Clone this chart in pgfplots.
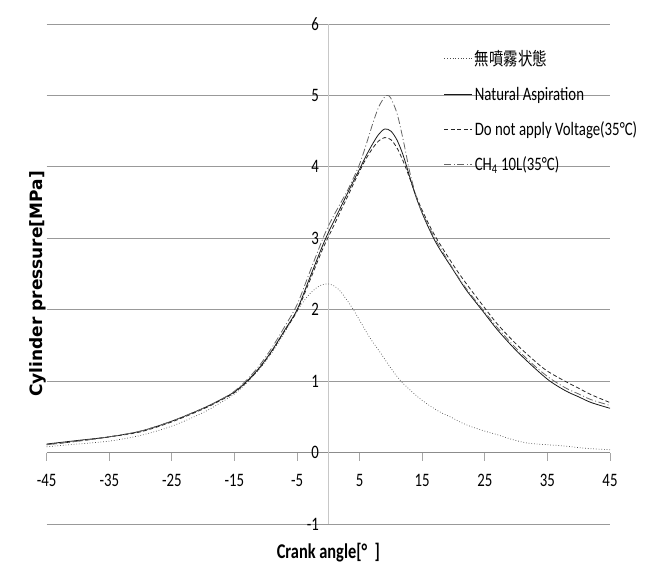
\documentclass[border=0pt]{standalone}
\usepackage{pgfplots}
\pgfplotsset{compat=1.18}
\usepackage{fontspec}
\setmainfont{Carlito}[FakeStretch=0.78]
\newfontfamily\cjk{Noto Sans CJK JP}[FakeStretch=0.8]
\newfontfamily\dejavu{DejaVu Sans}
\begin{document}
\begin{tikzpicture}
\useasboundingbox (-46.7pt,-56pt) rectangle (602.3pt,524pt);
\begin{axis}[
  scale only axis, width=563.3pt, height=500pt,
  xmin=-45, xmax=45, ymin=-1, ymax=6,
  axis x line=middle, axis y line=middle,
  every inner x axis line/.append style={-, draw=black!45, line width=0.8pt},
  every inner y axis line/.append style={-, draw=black!22, line width=0.8pt},
  xtick={-45,-35,...,45}, ytick={-1,0,...,6},
  extra y ticks={0}, extra y tick labels={0},
  extra y tick style={ytick style={draw=none}, grid=none},
  ymajorgrids, major grid style={black!40, line width=0.8pt},
  xtick style={draw=black!35, line width=0.8pt},
  ytick style={draw=none},
  xtick align=outside, major tick length=8pt,
  /pgf/number format/assume math mode=true,
  tick label style={font=\fontsize{19}{22}\selectfont},
  xticklabel style={anchor=north, yshift=-10pt},
  yticklabel style={anchor=east, xshift=-2pt},
  xlabel={\bfseries Crank angle[°\ \ ]},
  xlabel style={at={(axis description cs:0.5,0)}, anchor=center, yshift=-29pt, font=\fontsize{21}{24}\selectfont},
  ylabel={\dejavu\bfseries Cylinder pressure[MPa]},
  ylabel style={at={(axis description cs:0,0.5)}, rotate=90, anchor=south, inner sep=0pt, xshift=-10pt, font=\fontsize{17}{20}\selectfont},
  legend style={draw=none, fill=none, at={(axis description cs:0.705,0.952)}, anchor=north west, font=\fontsize{19}{22}\selectfont, row sep=16pt, inner sep=0pt, nodes={inner sep=2pt}},
  legend cell align=left,
  legend image code/.code={\draw[#1] (0pt,0pt) -- (28pt,0pt);},
  clip=false,
]
\addplot[black!70, line width=0.7pt, dotted, smooth, tension=0.5] coordinates {
(-45,0.08) (-40,0.12) (-35,0.16) (-30,0.24) (-25,0.37) (-20,0.56) (-17,0.71) (-15,0.82) (-13,0.98) (-11,1.17) (-9,1.40) (-7,1.68) (-5,1.98) (-4,2.11) (-3,2.22) (-2,2.30) (-1,2.35) (0,2.36) (1,2.33) (2,2.25) (3,2.13) (4,2.00) (5,1.85) (6.2,1.67) (7,1.56) (8.3,1.40) (10,1.18) (11.5,1.01) (13,0.88) (14.7,0.75) (16.3,0.65) (18,0.56) (19.5,0.50) (21,0.43) (22.6,0.37) (25,0.30) (27,0.25) (29.5,0.18) (32,0.13) (35,0.11) (38,0.09) (41,0.06) (45,0.04)
};
\addlegendentry{{\cjk\fontsize{18}{22}\selectfont 無噴霧状態}}
\addplot[black!90, line width=0.8pt, smooth, tension=0.5] coordinates {
(-45,0.12) (-40,0.17) (-35,0.22) (-30,0.30) (-25,0.44) (-20,0.62) (-17,0.75) (-15,0.85) (-13,1.00) (-11,1.19) (-9,1.43) (-7,1.71) (-5,2.00) (-3,2.44) (-1,2.88) (0,3.08) (1,3.26) (2,3.44) (3,3.62) (4,3.80) (5,3.97) (6,4.15) (7,4.31) (8,4.45) (9,4.53) (10,4.50) (11,4.37) (12,4.15) (13,3.86) (14,3.58) (15,3.35) (16,3.15) (17,2.97) (18,2.82) (20,2.55) (22,2.28) (24.5,2.00) (27,1.72) (30,1.43) (33,1.18) (35.4,1.00) (38,0.86) (40,0.78) (42,0.70) (45,0.62)
};
\addlegendentry{Natural Aspiration}
\addplot[black!85, line width=0.8pt, dash pattern=on 4pt off 2.5pt, smooth, tension=0.5] coordinates {
(-45,0.11) (-40,0.16) (-35,0.22) (-30,0.29) (-25,0.43) (-20,0.61) (-17,0.74) (-15,0.84) (-13,0.99) (-11,1.18) (-9,1.42) (-7,1.70) (-5,1.98) (-3,2.40) (-1,2.83) (0,3.02) (1,3.20) (2,3.39) (3,3.57) (4,3.76) (5,3.94) (6,4.11) (7,4.25) (8,4.36) (9,4.41) (10,4.38) (11,4.26) (12,4.07) (13,3.84) (14,3.60) (15,3.39) (17,3.04) (20,2.62) (22,2.37) (24.5,2.08) (27,1.80) (30,1.52) (33,1.28) (35,1.14) (38,0.99) (40,0.90) (42,0.81) (45,0.70)
};
\addlegendentry{Do not apply Voltage(35°C)}
\addplot[black!60, line width=0.8pt, dash pattern=on 7pt off 2.5pt on 1pt off 2.5pt, smooth, tension=0.5] coordinates {
(-45,0.11) (-40,0.16) (-35,0.22) (-30,0.30) (-25,0.44) (-20,0.62) (-17,0.75) (-15,0.86) (-13,1.02) (-11,1.22) (-9,1.47) (-7,1.76) (-5,2.07) (-3,2.52) (-1,2.97) (0,3.17) (1,3.34) (2,3.50) (3,3.66) (4,3.84) (5,4.04) (6,4.30) (7,4.58) (8,4.83) (9,4.98) (9.5,5.00) (10,4.96) (11,4.74) (12,4.36) (13,3.93) (14,3.60) (15,3.36) (17,3.00) (20,2.56) (22,2.30) (24.5,2.02) (27,1.75) (30,1.46) (33,1.21) (35.4,1.04) (38,0.90) (40,0.82) (42,0.74) (45,0.66)
};
\addlegendentry{CH\textsubscript{4} 10L(35°C)}
\end{axis}
\end{tikzpicture}
\end{document}
